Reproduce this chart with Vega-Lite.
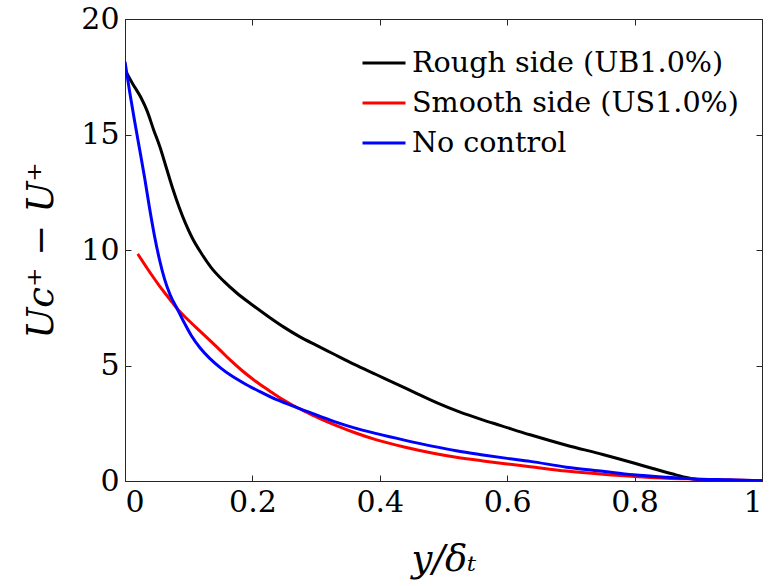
{
  "$schema": "https://vega.github.io/schema/vega-lite/v6.json",
  "width": 637,
  "height": 462,
  "autosize": {"type": "none"},
  "padding": {"left": 125, "top": 19, "right": 8, "bottom": 105},
  "background": "white",
  "config": {
    "font": "DejaVu Serif",
    "view": {"stroke": "#262626", "strokeWidth": 1},
    "axis": {
      "grid": false,
      "domainColor": "#262626",
      "tickColor": "#262626",
      "tickSize": -6,
      "labelFont": "DejaVu Serif",
      "labelFontSize": 30,
      "labelColor": "black",
      "titleFont": "DejaVu Serif",
      "titleFontStyle": "italic",
      "titleFontWeight": "normal",
      "titleFontSize": 37,
      "titleColor": "black"
    },
    "legend": {"labelFont": "DejaVu Serif"}
  },
  "datasets": {
    "d": [
      {"s": "Rough side (UB1.0%)", "x": 0.0, "y": 17.8},
      {"s": "Rough side (UB1.0%)", "x": 0.012, "y": 17.2},
      {"s": "Rough side (UB1.0%)", "x": 0.025, "y": 16.6},
      {"s": "Rough side (UB1.0%)", "x": 0.035, "y": 16.0},
      {"s": "Rough side (UB1.0%)", "x": 0.045, "y": 15.2},
      {"s": "Rough side (UB1.0%)", "x": 0.055, "y": 14.45},
      {"s": "Rough side (UB1.0%)", "x": 0.065, "y": 13.55},
      {"s": "Rough side (UB1.0%)", "x": 0.075, "y": 12.65},
      {"s": "Rough side (UB1.0%)", "x": 0.085, "y": 11.85},
      {"s": "Rough side (UB1.0%)", "x": 0.095, "y": 11.15},
      {"s": "Rough side (UB1.0%)", "x": 0.105, "y": 10.55},
      {"s": "Rough side (UB1.0%)", "x": 0.12, "y": 9.85},
      {"s": "Rough side (UB1.0%)", "x": 0.135, "y": 9.25},
      {"s": "Rough side (UB1.0%)", "x": 0.155, "y": 8.65},
      {"s": "Rough side (UB1.0%)", "x": 0.175, "y": 8.15},
      {"s": "Rough side (UB1.0%)", "x": 0.2, "y": 7.62},
      {"s": "Rough side (UB1.0%)", "x": 0.227, "y": 7.08},
      {"s": "Rough side (UB1.0%)", "x": 0.25, "y": 6.65},
      {"s": "Rough side (UB1.0%)", "x": 0.274, "y": 6.25},
      {"s": "Rough side (UB1.0%)", "x": 0.3, "y": 5.88},
      {"s": "Rough side (UB1.0%)", "x": 0.326, "y": 5.52},
      {"s": "Rough side (UB1.0%)", "x": 0.36, "y": 5.05},
      {"s": "Rough side (UB1.0%)", "x": 0.395, "y": 4.6},
      {"s": "Rough side (UB1.0%)", "x": 0.43, "y": 4.15},
      {"s": "Rough side (UB1.0%)", "x": 0.46, "y": 3.76},
      {"s": "Rough side (UB1.0%)", "x": 0.49, "y": 3.38},
      {"s": "Rough side (UB1.0%)", "x": 0.526, "y": 2.98},
      {"s": "Rough side (UB1.0%)", "x": 0.56, "y": 2.66},
      {"s": "Rough side (UB1.0%)", "x": 0.59, "y": 2.4},
      {"s": "Rough side (UB1.0%)", "x": 0.636, "y": 2.0},
      {"s": "Rough side (UB1.0%)", "x": 0.693, "y": 1.55},
      {"s": "Rough side (UB1.0%)", "x": 0.75, "y": 1.15},
      {"s": "Rough side (UB1.0%)", "x": 0.8, "y": 0.77},
      {"s": "Rough side (UB1.0%)", "x": 0.83, "y": 0.53},
      {"s": "Rough side (UB1.0%)", "x": 0.86, "y": 0.3},
      {"s": "Rough side (UB1.0%)", "x": 0.885, "y": 0.13},
      {"s": "Rough side (UB1.0%)", "x": 0.905, "y": 0.04},
      {"s": "Smooth side (US1.0%)", "x": 0.02, "y": 9.83},
      {"s": "Smooth side (US1.0%)", "x": 0.035, "y": 9.2},
      {"s": "Smooth side (US1.0%)", "x": 0.054, "y": 8.45},
      {"s": "Smooth side (US1.0%)", "x": 0.07, "y": 7.88},
      {"s": "Smooth side (US1.0%)", "x": 0.083, "y": 7.42},
      {"s": "Smooth side (US1.0%)", "x": 0.1, "y": 6.95},
      {"s": "Smooth side (US1.0%)", "x": 0.122, "y": 6.38},
      {"s": "Smooth side (US1.0%)", "x": 0.148, "y": 5.7},
      {"s": "Smooth side (US1.0%)", "x": 0.165, "y": 5.24},
      {"s": "Smooth side (US1.0%)", "x": 0.185, "y": 4.75},
      {"s": "Smooth side (US1.0%)", "x": 0.205, "y": 4.32},
      {"s": "Smooth side (US1.0%)", "x": 0.227, "y": 3.9},
      {"s": "Smooth side (US1.0%)", "x": 0.245, "y": 3.57},
      {"s": "Smooth side (US1.0%)", "x": 0.264, "y": 3.27},
      {"s": "Smooth side (US1.0%)", "x": 0.285, "y": 2.98},
      {"s": "Smooth side (US1.0%)", "x": 0.306, "y": 2.7},
      {"s": "Smooth side (US1.0%)", "x": 0.33, "y": 2.42},
      {"s": "Smooth side (US1.0%)", "x": 0.36, "y": 2.1},
      {"s": "Smooth side (US1.0%)", "x": 0.395, "y": 1.78},
      {"s": "Smooth side (US1.0%)", "x": 0.44, "y": 1.46},
      {"s": "Smooth side (US1.0%)", "x": 0.484, "y": 1.2},
      {"s": "Smooth side (US1.0%)", "x": 0.52, "y": 1.03},
      {"s": "Smooth side (US1.0%)", "x": 0.562, "y": 0.87},
      {"s": "Smooth side (US1.0%)", "x": 0.6, "y": 0.74},
      {"s": "Smooth side (US1.0%)", "x": 0.636, "y": 0.62},
      {"s": "Smooth side (US1.0%)", "x": 0.693, "y": 0.43},
      {"s": "Smooth side (US1.0%)", "x": 0.75, "y": 0.29},
      {"s": "Smooth side (US1.0%)", "x": 0.8, "y": 0.19},
      {"s": "Smooth side (US1.0%)", "x": 0.85, "y": 0.12},
      {"s": "Smooth side (US1.0%)", "x": 0.9, "y": 0.08},
      {"s": "Smooth side (US1.0%)", "x": 0.95, "y": 0.04},
      {"s": "Smooth side (US1.0%)", "x": 1.0, "y": 0.02},
      {"s": "No control", "x": 0.0, "y": 18.15},
      {"s": "No control", "x": 0.007, "y": 16.9},
      {"s": "No control", "x": 0.015, "y": 15.6},
      {"s": "No control", "x": 0.023, "y": 14.35},
      {"s": "No control", "x": 0.031, "y": 13.1},
      {"s": "No control", "x": 0.038, "y": 11.9},
      {"s": "No control", "x": 0.046, "y": 10.65},
      {"s": "No control", "x": 0.054, "y": 9.6},
      {"s": "No control", "x": 0.062, "y": 8.75},
      {"s": "No control", "x": 0.071, "y": 8.05},
      {"s": "No control", "x": 0.083, "y": 7.4},
      {"s": "No control", "x": 0.094, "y": 6.8},
      {"s": "No control", "x": 0.104, "y": 6.3},
      {"s": "No control", "x": 0.118, "y": 5.76},
      {"s": "No control", "x": 0.133, "y": 5.31},
      {"s": "No control", "x": 0.15, "y": 4.9},
      {"s": "No control", "x": 0.169, "y": 4.52},
      {"s": "No control", "x": 0.19, "y": 4.18},
      {"s": "No control", "x": 0.211, "y": 3.88},
      {"s": "No control", "x": 0.23, "y": 3.62},
      {"s": "No control", "x": 0.253, "y": 3.36},
      {"s": "No control", "x": 0.274, "y": 3.13},
      {"s": "No control", "x": 0.306, "y": 2.8},
      {"s": "No control", "x": 0.33, "y": 2.56},
      {"s": "No control", "x": 0.36, "y": 2.3},
      {"s": "No control", "x": 0.395, "y": 2.05},
      {"s": "No control", "x": 0.44, "y": 1.76},
      {"s": "No control", "x": 0.484, "y": 1.5},
      {"s": "No control", "x": 0.52, "y": 1.31},
      {"s": "No control", "x": 0.562, "y": 1.13},
      {"s": "No control", "x": 0.6, "y": 0.98},
      {"s": "No control", "x": 0.636, "y": 0.85},
      {"s": "No control", "x": 0.693, "y": 0.6},
      {"s": "No control", "x": 0.75, "y": 0.42},
      {"s": "No control", "x": 0.798, "y": 0.27},
      {"s": "No control", "x": 0.85, "y": 0.16},
      {"s": "No control", "x": 0.892, "y": 0.09},
      {"s": "No control", "x": 0.95, "y": 0.05},
      {"s": "No control", "x": 1.0, "y": 0.01}
    ]
  },
  "data": {"name": "d"},
  "layer": [
    {
      "transform": [{"filter": "datum.s === 'Rough side (UB1.0%)'"}],
      "mark": {"type": "line", "strokeWidth": 3, "clip": true, "interpolate": "monotone"},
      "encoding": {
        "x": {"field": "x", "type": "quantitative", "scale": {"domain": [0, 1], "nice": false},
              "axis": {"values": [0, 0.2, 0.4, 0.6, 0.8, 1], "format": "~g", "labelPadding": 12, "title": "y/δₜ", "titlePadding": 24}},
        "y": {"field": "y", "type": "quantitative", "scale": {"domain": [0, 20], "nice": false},
              "axis": {"values": [0, 5, 10, 15, 20], "labelPadding": 12, "title": "Uc⁺ − U⁺", "titlePadding": 20}},
        "color": {"field": "s", "type": "nominal",
          "scale": {"domain": ["Rough side (UB1.0%)", "Smooth side (US1.0%)", "No control"], "range": ["#000000", "#ff0000", "#0000ff"]},
          "legend": {"title": null, "orient": "none", "legendX": 236, "legendY": 21,
            "symbolType": "stroke", "symbolSize": 1849, "symbolStrokeWidth": 3,
            "labelFontSize": 28.6, "labelColor": "black",
            "labelOffset": 5, "rowPadding": 2, "labelLimit": 450}}
      }
    },
    {
      "transform": [{"filter": "datum.s === 'Smooth side (US1.0%)'"}],
      "mark": {"type": "line", "strokeWidth": 3, "clip": true, "interpolate": "monotone"},
      "encoding": {
        "x": {"field": "x", "type": "quantitative", "axis": null},
        "y": {"field": "y", "type": "quantitative", "axis": null},
        "color": {"field": "s", "type": "nominal"}
      }
    },
    {
      "transform": [{"filter": "datum.s === 'No control'"}],
      "mark": {"type": "line", "strokeWidth": 3, "clip": true, "interpolate": "monotone"},
      "encoding": {
        "x": {"field": "x", "type": "quantitative", "axis": null},
        "y": {"field": "y", "type": "quantitative", "axis": null},
        "color": {"field": "s", "type": "nominal"}
      }
    },
    {
      "mark": {"type": "line", "strokeOpacity": 0},
      "encoding": {
        "x": {"field": "x", "type": "quantitative",
              "axis": {"orient": "top", "values": [0, 0.2, 0.4, 0.6, 0.8, 1], "labels": false, "title": null, "domain": false}},
        "y": {"field": "y", "type": "quantitative",
              "axis": {"orient": "right", "values": [0, 5, 10, 15, 20], "labels": false, "title": null, "domain": false}},
        "detail": {"field": "s"}
      }
    }
  ],
  "resolve": {"axis": {"x": "independent", "y": "independent"}}
}
